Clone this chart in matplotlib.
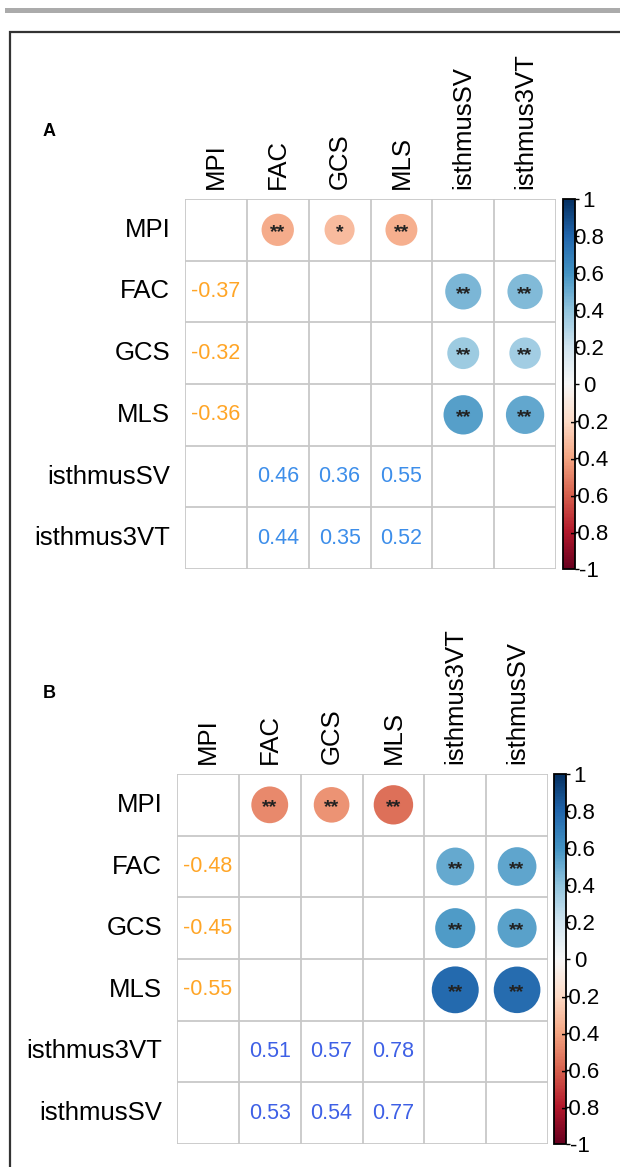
import matplotlib.pyplot as plt
import numpy as np
from matplotlib import cm, colors
from matplotlib.patches import Circle, Rectangle

W, H = 620, 1167
nan = np.nan

# panel A
labels_a = ['MPI', 'FAC', 'GCS', 'MLS', 'isthmusSV', 'isthmus3VT']
corr_a = [
    [nan, nan, nan, nan, nan, nan],
    [-0.37, nan, nan, nan, nan, nan],
    [-0.32, nan, nan, nan, nan, nan],
    [-0.36, nan, nan, nan, nan, nan],
    [nan, 0.46, 0.36, 0.55, nan, nan],
    [nan, 0.44, 0.35, 0.52, nan, nan],
]
stars_a = [
    ['', '', '', '', '', ''],
    ['**', '', '', '', '', ''],
    ['*', '', '', '', '', ''],
    ['**', '', '', '', '', ''],
    ['', '**', '**', '**', '', ''],
    ['', '**', '**', '**', '', ''],
]

# panel B
labels_b = ['MPI', 'FAC', 'GCS', 'MLS', 'isthmus3VT', 'isthmusSV']
corr_b = [
    [nan, nan, nan, nan, nan, nan],
    [-0.48, nan, nan, nan, nan, nan],
    [-0.45, nan, nan, nan, nan, nan],
    [-0.55, nan, nan, nan, nan, nan],
    [nan, 0.51, 0.57, 0.78, nan, nan],
    [nan, 0.53, 0.54, 0.77, nan, nan],
]
stars_b = [
    ['', '', '', '', '', ''],
    ['**', '', '', '', '', ''],
    ['**', '', '', '', '', ''],
    ['**', '', '', '', '', ''],
    ['', '**', '**', '**', '', ''],
    ['', '**', '**', '**', '', ''],
]

cbar_ticks = [-1, -0.8, -0.6, -0.4, -0.2, 0, 0.2, 0.4, 0.6, 0.8, 1]
cbar_labels = ['-1', '-0.8', '-0.6', '-0.4', '-0.2', '0', '0.2', '0.4', '0.6', '0.8', '1']

plt.rcParams['font.family'] = ['Liberation Sans', 'DejaVu Sans']
NEG_COLOR = '#FFA526'


def fbox(x0, y0, x1, y1):
    return [x0 / W, 1 - y1 / H, (x1 - x0) / W, (y1 - y0) / H]


def draw_panel(fig, grid_px, cbar_px, labels, corr, stars, pos_color, tag, tag_xy):
    ax = fig.add_axes(fbox(*grid_px))
    n = len(labels)
    ax.set_xlim(0, n)
    ax.set_ylim(n, 0)
    ax.axis('off')
    cmap = plt.get_cmap('RdBu')
    norm = colors.Normalize(-1, 1)

    for i in range(n):
        for j in range(i):
            r = corr[i][j]
            if np.isnan(r):
                continue
            # lower triangle: numbers
            ax.text(j + 0.5, i + 0.5, f'{r:.2f}', ha='center', va='center',
                    fontsize=15.5, color=NEG_COLOR if r < 0 else pos_color)
            # upper triangle: circles with stars
            ax.add_patch(Circle((i + 0.5, j + 0.5), 0.43 * np.sqrt(abs(r)),
                                fc=cmap(norm(r)), ec='none'))
            ax.text(i + 0.5, j + 0.62, stars[i][j], ha='center', va='baseline',
                    fontsize=14, fontweight='bold', color='#222222')

    ax.vlines(np.arange(n + 1), 0, n, color='#c8c8c8', lw=1.3)
    ax.hlines(np.arange(n + 1), 0, n, color='#c8c8c8', lw=1.3)

    for k, lab in enumerate(labels):
        ax.text(-0.24, k + 0.5, lab, ha='right', va='center', fontsize=18.5)
        ax.text(k + 0.5, -0.17, lab, ha='center', va='bottom', rotation=90, fontsize=18.5)

    cax = fig.add_axes(fbox(*cbar_px))
    cb = fig.colorbar(cm.ScalarMappable(norm=norm, cmap=cmap), cax=cax, ticks=cbar_ticks)
    cb.set_ticklabels(cbar_labels)
    cb.outline.set_linewidth(1.3)
    cax.tick_params(length=3, width=1, pad=7, labelsize=16)
    for t in cax.get_yticklabels():
        t.set_ha('center')

    fig.text(tag_xy[0] / W, 1 - tag_xy[1] / H, tag, fontsize=13, fontweight='bold',
             ha='center', va='center')


fig = plt.figure(figsize=(W / 100, H / 100), dpi=100)

# grey rule at the top and the frame around the figure
fig.add_artist(Rectangle((5 / W, 1 - 13 / H), 1, 5 / H, transform=fig.transFigure,
                         fc='#ababab', ec='none'))
fig.add_artist(Rectangle((10 / W, -0.01), 1.1, 1.01 - 32 / H, transform=fig.transFigure,
                         fill=False, ec='#333333', lw=1.6))

draw_panel(fig, (185, 199, 556, 569), (563, 199, 575, 569), labels_a, corr_a, stars_a,
           '#3D8EEA', 'A', (49, 131))
draw_panel(fig, (177, 774, 548, 1144), (554, 774, 566, 1144), labels_b, corr_b, stars_b,
           '#3E60E6', 'B', (49, 693))

fig.savefig('out.png', dpi=100)
